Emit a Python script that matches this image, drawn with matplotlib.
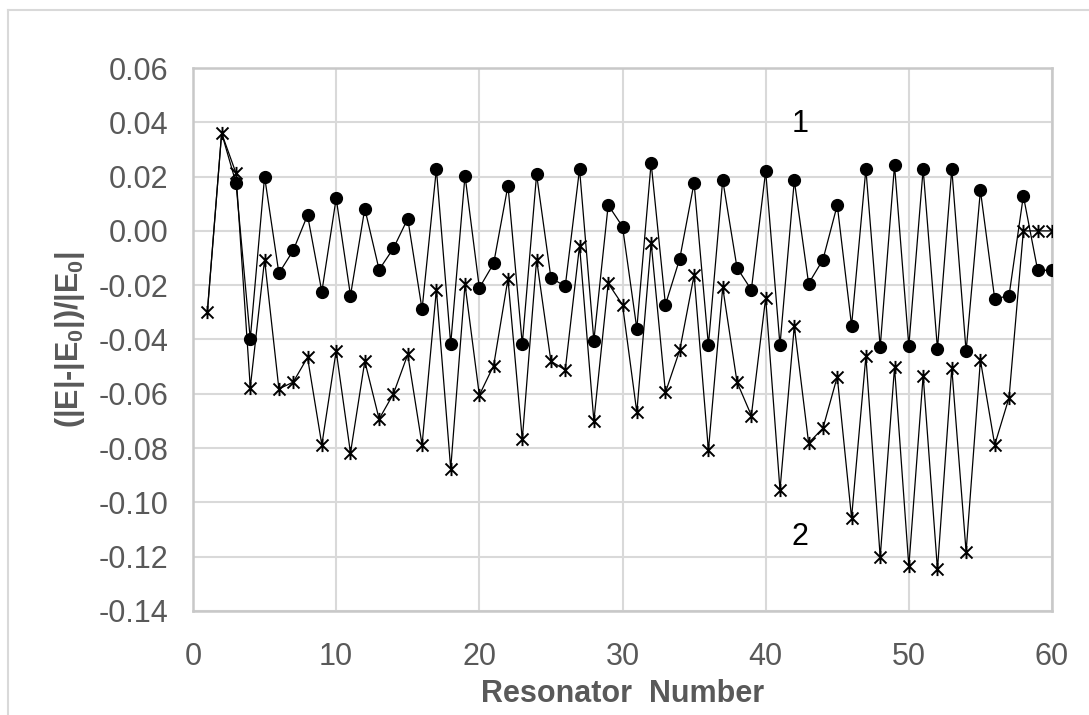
import matplotlib
matplotlib.use("Agg")
import matplotlib.pyplot as plt
from matplotlib.path import Path
from matplotlib.lines import Line2D
import numpy as np

plt.rcParams['font.family'] = ['Liberation Sans', 'DejaVu Sans']
plt.rcParams['mathtext.fontset'] = 'custom'
plt.rcParams['mathtext.rm'] = 'Liberation Sans'
plt.rcParams['mathtext.bf'] = 'Liberation Sans:bold'

resonator = list(range(1, 61))

# curve 1 (filled circles)
curve1 = [-0.030, 0.036, 0.0177, -0.0398, 0.0200, -0.0156, -0.0072, 0.0058, -0.0224, 0.0120,
          -0.0238, 0.0082, -0.0143, -0.0064, 0.0045, -0.0289, 0.0228, -0.0417, 0.0204, -0.0210,
          -0.0120, 0.0167, -0.0417, 0.0208, -0.0173, -0.0204, 0.0228, -0.0404, 0.0095, 0.0016,
          -0.0360, 0.0251, -0.0272, -0.0102, 0.0177, -0.0421, 0.0188, -0.0136, -0.0217, 0.0220,
          -0.0421, 0.0186, -0.0194, -0.0106, 0.0095, -0.0349, 0.0228, -0.0428, 0.0242, -0.0424,
          0.0228, -0.0435, 0.0228, -0.0444, 0.0149, -0.0251, -0.0238, 0.0129, -0.0145, -0.0145]

# curve 2 (stars)
curve2 = [-0.030, 0.036, 0.0213, -0.0577, -0.0106, -0.0582, -0.0557, -0.0466, -0.0788, -0.0442,
          -0.0818, -0.0480, -0.0693, -0.0600, -0.0455, -0.0788, -0.0217, -0.0876, -0.0197, -0.0605,
          -0.0496, -0.0177, -0.0768, -0.0106, -0.0480, -0.0512, -0.0054, -0.0700, -0.0193, -0.0272,
          -0.0668, -0.0043, -0.0595, -0.0439, -0.0163, -0.0808, -0.0208, -0.0557, -0.0680, -0.0247,
          -0.0954, -0.0351, -0.0781, -0.0727, -0.0537, -0.1057, -0.0462, -0.1202, -0.0503, -0.1236,
          -0.0533, -0.1247, -0.0505, -0.1182, -0.0476, -0.0788, -0.0614, 0.0, 0.0, 0.0]

gray = '#595959'

# excel-like star marker: x with a vertical bar
star = Path([(-1, -1), (1, 1), (-1, 1), (1, -1), (0, -1.1), (0, 1.1)],
            [Path.MOVETO, Path.LINETO, Path.MOVETO, Path.LINETO, Path.MOVETO, Path.LINETO])

fig = plt.figure(figsize=(10.89, 7.15), dpi=100)
ax = fig.add_axes([193/1089, 1 - 611/715, (1052 - 193)/1089, (611 - 68)/715])

ax.plot(resonator, curve2, color='black', lw=0.9, marker=star, ms=9.5,
        mec='black', mew=1.4, zorder=3)
# first two points of curve 1 coincide with curve 2 -> no circle drawn there
ax.plot(resonator, curve1, color='black', lw=0.9, marker='o', ms=8.5,
        mfc='black', mec='black', markevery=list(range(2, 60)), zorder=4)

ax.text(42.4, 0.0394, '1', fontsize=22, color='black', ha='center', va='center')
ax.text(42.4, -0.1127, '2', fontsize=22, color='black', ha='center', va='center')

ax.set_xlim(0, 60)
ax.set_ylim(-0.14, 0.06)
ax.set_xticks(np.arange(0, 61, 10))
ax.set_yticks(np.arange(-0.14, 0.061, 0.02))
ax.set_yticklabels([f'{v:.2f}' for v in np.arange(-0.14, 0.061, 0.02)])
ax.grid(True, color='#d9d9d9', lw=1.5)
ax.set_axisbelow(True)
for s in ax.spines.values():
    s.set_color('#c8c8c8')
    s.set_linewidth(1.8)
ax.tick_params(length=0, labelsize=22, colors=gray)
ax.tick_params(axis='x', pad=22)
ax.tick_params(axis='y', pad=18)

ax.set_xlabel('Resonator  Number', fontsize=22, fontweight='bold', color=gray, labelpad=5)
ax.set_ylabel(r'(|E|-|E$_\mathbf{0}$|)/|E$_\mathbf{0}$|', fontsize=22, fontweight='bold',
              color=gray, labelpad=8)

# outer chart border (partly cropped)
fig.add_artist(Line2D([8/1089, 1.0], [1 - 10/715, 1 - 10/715], color='#d9d9d9', lw=1.5))
fig.add_artist(Line2D([8/1089, 8/1089], [0.0, 1 - 10/715], color='#d9d9d9', lw=1.5))

fig.savefig('out.png', dpi=100)
